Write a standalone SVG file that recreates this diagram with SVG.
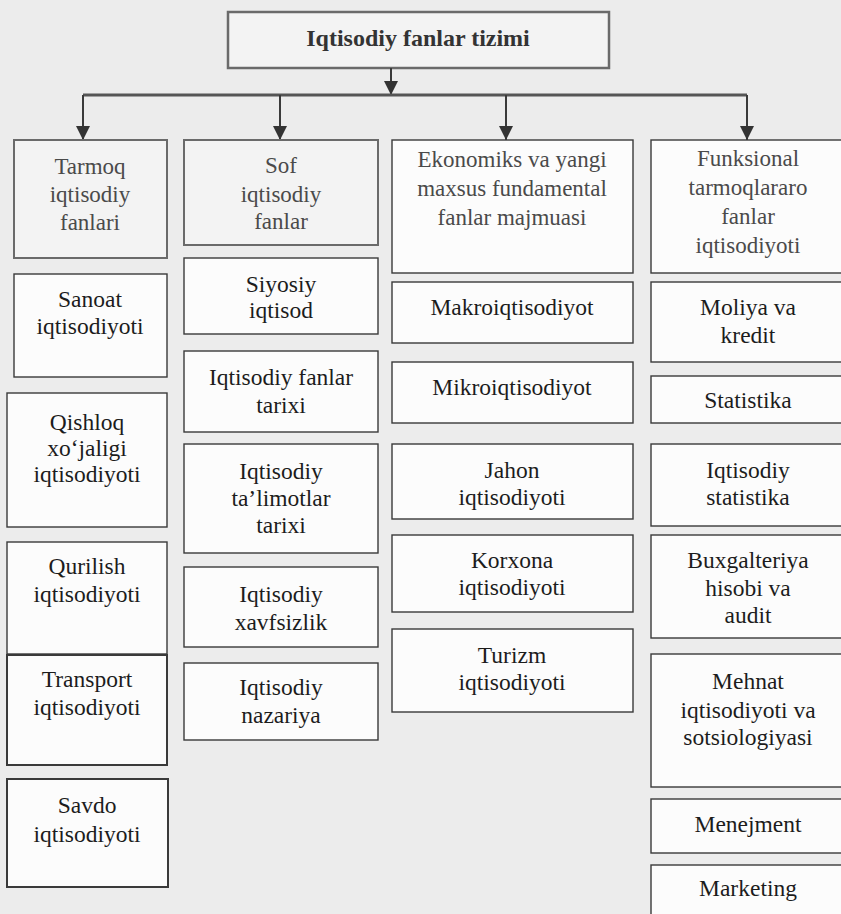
<svg xmlns="http://www.w3.org/2000/svg" width="841" height="914" viewBox="0 0 841 914">
<defs>
<marker id="arr" viewBox="0 0 10 10" refX="10" refY="5" markerWidth="14" markerHeight="14" markerUnits="userSpaceOnUse" orient="auto">
<path d="M0,0 L10,5 L0,10 z" fill="#333"/>
</marker>
</defs>
<style>
.bx{fill:#fcfcfc;stroke:#3a3a3a;stroke-width:1.4}
.hb{fill:#f3f3f3;stroke:#6a6a6a;stroke-width:2}
.t{font-family:"Liberation Serif","Times New Roman",serif;font-size:23.5px;fill:#1c1c1c;text-anchor:middle}
.h{font-family:"Liberation Serif","Times New Roman",serif;font-size:23px;fill:#4a4a4a;text-anchor:middle}
.ti{font-family:"Liberation Serif","Times New Roman",serif;font-size:24px;font-weight:bold;fill:#333;text-anchor:middle}
.ln{stroke:#3a3a3a;stroke-width:2;fill:none}
</style>
<rect x="0" y="0" width="841" height="914" fill="#ececec"/>

<g id="title">
<rect class="hb" x="228" y="12" width="381" height="56" style="stroke-width:2.5"/>
<text class="ti" x="418" y="46">Iqtisodiy fanlar tizimi</text>
</g>

<g id="connectors">
<line class="ln" x1="391" y1="68" x2="391" y2="95" marker-end="url(#arr)"/>
<line x1="83" y1="95" x2="747" y2="95" stroke="#555" stroke-width="3"/>
<line class="ln" x1="83" y1="95" x2="83" y2="140" marker-end="url(#arr)"/>
<line class="ln" x1="280" y1="95" x2="280" y2="140" marker-end="url(#arr)"/>
<line class="ln" x1="506" y1="95" x2="506" y2="140" marker-end="url(#arr)"/>
<line class="ln" x1="747" y1="95" x2="747" y2="140" marker-end="url(#arr)"/>
</g>

<!-- Column 1 -->
<g id="n_tarmoq">
<rect class="hb" x="14" y="140" width="153" height="118"/>
<text class="h" x="90" y="174">Tarmoq</text>
<text class="h" x="90" y="202">iqtisodiy</text>
<text class="h" x="90" y="230">fanlari</text>
</g>
<g id="n_sanoat">
<rect class="bx" x="14" y="274" width="153" height="103"/>
<text class="t" x="90" y="307">Sanoat</text>
<text class="t" x="90" y="334">iqtisodiyoti</text>
</g>
<g id="n_qishloq">
<rect class="bx" x="7" y="393" width="160" height="134"/>
<text class="t" x="87" y="430">Qishloq</text>
<text class="t" x="87" y="456">xo‘jaligi</text>
<text class="t" x="87" y="482">iqtisodiyoti</text>
</g>
<g id="n_qurilish">
<rect class="bx" x="7" y="542" width="160" height="112"/>
<text class="t" x="87" y="574">Qurilish</text>
<text class="t" x="87" y="602">iqtisodiyoti</text>
</g>
<g id="n_transport">
<rect class="bx" x="7" y="655" width="160" height="110" style="stroke-width:2"/>
<text class="t" x="87" y="687">Transport</text>
<text class="t" x="87" y="715">iqtisodiyoti</text>
</g>
<g id="n_savdo">
<rect class="bx" x="7" y="779" width="161" height="108" style="stroke-width:2"/>
<text class="t" x="87" y="813">Savdo</text>
<text class="t" x="87" y="842">iqtisodiyoti</text>
</g>

<!-- Column 2 -->
<g id="n_sof">
<rect class="hb" x="184" y="140" width="194" height="105"/>
<text class="h" x="281" y="173">Sof</text>
<text class="h" x="281" y="202">iqtisodiy</text>
<text class="h" x="281" y="229">fanlar</text>
</g>
<g id="n_siyosiy">
<rect class="bx" x="184" y="258" width="194" height="76"/>
<text class="t" x="281" y="292">Siyosiy</text>
<text class="t" x="281" y="318">iqtisod</text>
</g>
<g id="n_fantarixi">
<rect class="bx" x="184" y="351" width="194" height="81"/>
<text class="t" x="281" y="385">Iqtisodiy fanlar</text>
<text class="t" x="281" y="413">tarixi</text>
</g>
<g id="n_talimot">
<rect class="bx" x="184" y="444" width="194" height="109"/>
<text class="t" x="281" y="479">Iqtisodiy</text>
<text class="t" x="281" y="506">ta’limotlar</text>
<text class="t" x="281" y="533">tarixi</text>
</g>
<g id="n_xavfsizlik">
<rect class="bx" x="184" y="567" width="194" height="80"/>
<text class="t" x="281" y="602">Iqtisodiy</text>
<text class="t" x="281" y="630">xavfsizlik</text>
</g>
<g id="n_nazariya">
<rect class="bx" x="184" y="663" width="194" height="77"/>
<text class="t" x="281" y="695">Iqtisodiy</text>
<text class="t" x="281" y="723">nazariya</text>
</g>

<!-- Column 3 -->
<g id="n_ekonomiks">
<rect class="bx" x="392" y="140" width="241" height="133"/>
<text class="h" x="512" y="167">Ekonomiks va yangi</text>
<text class="h" x="512" y="196">maxsus fundamental</text>
<text class="h" x="512" y="225">fanlar majmuasi</text>
</g>
<g id="n_makro">
<rect class="bx" x="392" y="282" width="241" height="61"/>
<text class="t" x="512" y="315">Makroiqtisodiyot</text>
</g>
<g id="n_mikro">
<rect class="bx" x="392" y="362" width="241" height="61"/>
<text class="t" x="512" y="395">Mikroiqtisodiyot</text>
</g>
<g id="n_jahon">
<rect class="bx" x="392" y="444" width="241" height="75"/>
<text class="t" x="512" y="478">Jahon</text>
<text class="t" x="512" y="505">iqtisodiyoti</text>
</g>
<g id="n_korxona">
<rect class="bx" x="392" y="535" width="241" height="77"/>
<text class="t" x="512" y="568">Korxona</text>
<text class="t" x="512" y="595">iqtisodiyoti</text>
</g>
<g id="n_turizm">
<rect class="bx" x="392" y="629" width="241" height="83"/>
<text class="t" x="512" y="663">Turizm</text>
<text class="t" x="512" y="690">iqtisodiyoti</text>
</g>

<!-- Column 4 -->
<g id="n_funksional">
<rect class="bx" x="651" y="140" width="194" height="133"/>
<text class="h" x="748" y="166">Funksional</text>
<text class="h" x="748" y="195">tarmoqlararo</text>
<text class="h" x="748" y="224">fanlar</text>
<text class="h" x="748" y="253">iqtisodiyoti</text>
</g>
<g id="n_moliya">
<rect class="bx" x="651" y="282" width="194" height="80"/>
<text class="t" x="748" y="315">Moliya va</text>
<text class="t" x="748" y="343">kredit</text>
</g>
<g id="n_statistika">
<rect class="bx" x="651" y="376" width="194" height="47"/>
<text class="t" x="748" y="408">Statistika</text>
</g>
<g id="n_iqstat">
<rect class="bx" x="651" y="444" width="194" height="82"/>
<text class="t" x="748" y="478">Iqtisodiy</text>
<text class="t" x="748" y="505">statistika</text>
</g>
<g id="n_buxgalteriya">
<rect class="bx" x="651" y="535" width="194" height="103"/>
<text class="t" x="748" y="568">Buxgalteriya</text>
<text class="t" x="748" y="596">hisobi va</text>
<text class="t" x="748" y="623">audit</text>
</g>
<g id="n_mehnat">
<rect class="bx" x="651" y="654" width="194" height="133"/>
<text class="t" x="748" y="689">Mehnat</text>
<text class="t" x="748" y="718">iqtisodiyoti va</text>
<text class="t" x="748" y="745">sotsiologiyasi</text>
</g>
<g id="n_menejment">
<rect class="bx" x="651" y="799" width="194" height="54"/>
<text class="t" x="748" y="832">Menejment</text>
</g>
<g id="n_marketing">
<rect class="bx" x="651" y="865" width="194" height="60"/>
<text class="t" x="748" y="896">Marketing</text>
</g>
</svg>
